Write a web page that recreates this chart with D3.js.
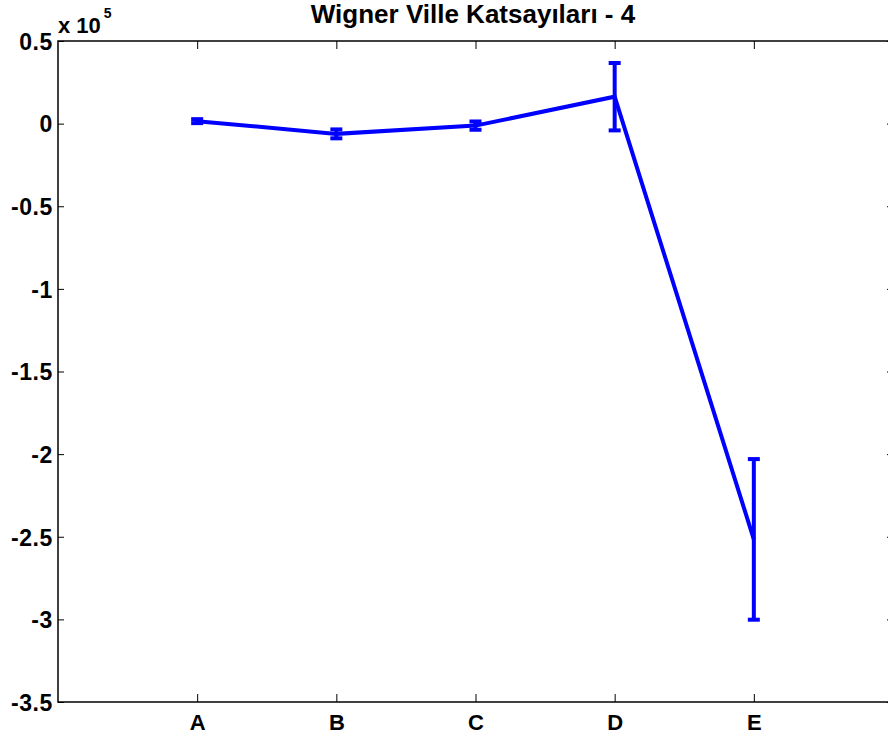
<!DOCTYPE html>
<html>
<head>
<meta charset="utf-8">
<script src="https://cdn.jsdelivr.net/npm/d3@7"></script>
<style>
  body { margin: 0; background: #fff; }
  svg { display: block; }
  text { font-family: "Liberation Sans", Arial, sans-serif; font-weight: bold; fill: #000; }
</style>
</head>
<body>
<svg id="chart" width="888" height="742"></svg>
<script>
const categories = ["A", "B", "C", "D", "E"];
const means = [0.015, -0.062, -0.012, 0.163, -2.516];   // x 10^5
const errors = [0.012, 0.027, 0.025, 0.204, 0.486];     // x 10^5
const yTicks = [0.5, 0, -0.5, -1, -1.5, -2, -2.5, -3, -3.5];
const titleText = "Wigner Ville Katsayıları - 4";

const W = 888, H = 742;
const m = { left: 58, top: 41, right: 893, bottom: 702 };
const svg = d3.select("#chart");

const x = d3.scaleLinear().domain([0, categories.length + 1]).range([m.left, m.right]);
const y = d3.scaleLinear().domain([-3.5, 0.5]).range([m.bottom, m.top]);

const data = categories.map((c, i) => ({ c, i: i + 1, v: means[i], e: errors[i] }));

// axes box
svg.append("rect")
  .attr("x", m.left).attr("y", m.top)
  .attr("width", m.right - m.left).attr("height", m.bottom - m.top)
  .attr("fill", "none").attr("stroke", "#000").attr("stroke-width", 1.5);

// y ticks (left and right, inward)
const yAxisL = d3.axisLeft(y).tickValues(yTicks).tickSizeInner(-6).tickSizeOuter(0).tickPadding(12)
  .tickFormat(d => String(d));
const gL = svg.append("g").attr("transform", `translate(${m.left},0)`).call(yAxisL);
gL.select(".domain").remove();
gL.selectAll("line").attr("stroke", "#000");
gL.selectAll("text").style("font-size", "23px").style("letter-spacing", "0.6px").attr("dy", "0.36em").attr("x", -5);

const yAxisR = d3.axisRight(y).tickValues(yTicks).tickSizeInner(-6).tickSizeOuter(0).tickFormat("");
const gR = svg.append("g").attr("transform", `translate(${m.right},0)`).call(yAxisR);
gR.select(".domain").remove();
gR.selectAll("line").attr("stroke", "#000");

// x ticks (bottom and top, inward)
const xAxisB = d3.axisBottom(x).tickValues(data.map(d => d.i)).tickSizeInner(-8).tickSizeOuter(0).tickPadding(14)
  .tickFormat((d) => categories[d - 1]);
const gB = svg.append("g").attr("transform", `translate(0,${m.bottom})`).call(xAxisB);
gB.select(".domain").remove();
gB.selectAll("line").attr("stroke", "#000");
gB.selectAll("text").style("font-size", "22px").attr("y", 12);

const xAxisT = d3.axisTop(x).tickValues(data.map(d => d.i)).tickSizeInner(-8).tickSizeOuter(0).tickFormat("");
const gT = svg.append("g").attr("transform", `translate(0,${m.top})`).call(xAxisT);
gT.select(".domain").remove();
gT.selectAll("line").attr("stroke", "#000");

// exponent label
const expo = svg.append("text").attr("x", m.left).attr("y", 33).style("font-size", "22px");
expo.append("tspan").text("x 10");
expo.append("tspan").attr("dy", -15).attr("dx", 3).style("font-size", "14px").text("5");

// title
svg.append("text").attr("x", 473).attr("y", 23)
  .attr("text-anchor", "middle").style("font-size", "26px").text(titleText);

// line
const plot = svg.append("g");
plot.append("path").datum(data)
  .attr("fill", "none").attr("stroke", "#0000ff").attr("stroke-width", 4)
  .attr("stroke-linejoin", "miter")
  .attr("d", d3.line().x(d => x(d.i)).y(d => y(d.v)));

// error bars
const capW = 12;
const eb = plot.selectAll(".eb").data(data).join("g").attr("class", "eb");
eb.append("line")
  .attr("x1", d => x(d.i)).attr("x2", d => x(d.i))
  .attr("y1", d => y(d.v + d.e)).attr("y2", d => y(d.v - d.e))
  .attr("stroke", "#0000ff").attr("stroke-width", 4);
eb.append("line")
  .attr("x1", d => x(d.i) - capW / 2).attr("x2", d => x(d.i) + capW / 2)
  .attr("y1", d => y(d.v + d.e)).attr("y2", d => y(d.v + d.e))
  .attr("stroke", "#0000ff").attr("stroke-width", 4);
eb.append("line")
  .attr("x1", d => x(d.i) - capW / 2).attr("x2", d => x(d.i) + capW / 2)
  .attr("y1", d => y(d.v - d.e)).attr("y2", d => y(d.v - d.e))
  .attr("stroke", "#0000ff").attr("stroke-width", 4);
</script>
</body>
</html>
